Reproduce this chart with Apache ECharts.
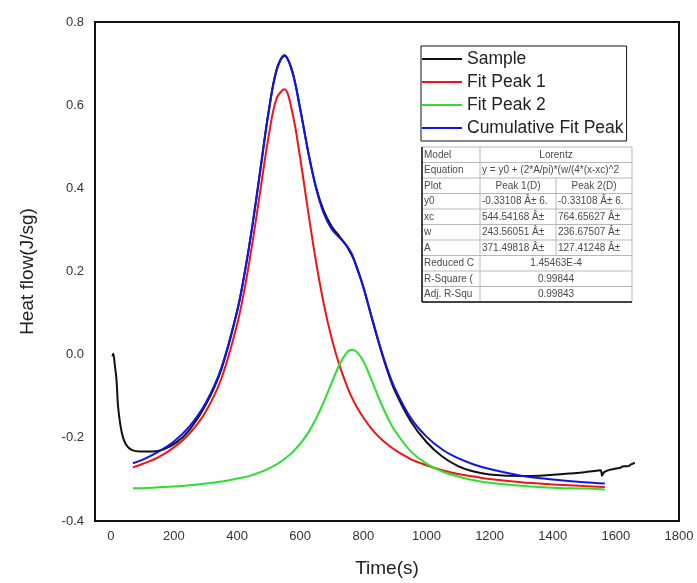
<!DOCTYPE html>
<html>
<head>
<meta charset="utf-8">
<script src="https://cdn.jsdelivr.net/npm/echarts@6/dist/echarts.min.js"></script>
<style>
  html, body { margin: 0; padding: 0; background: #fff; }
  #chart { width: 697px; height: 583px; }
</style>
</head>
<body>
<div id="chart"></div>
<script>
// values
const sampleTime = [5, 8, 12, 18, 23, 31, 39, 50, 66, 92, 134, 166, 208, 250, 300, 350, 400, 425, 450, 475, 500, 525, 550, 575, 600, 625, 650, 675, 700, 725, 750, 775, 800, 825, 850, 875, 900, 950, 1000, 1050, 1100, 1150, 1200, 1300, 1400, 1450, 1500, 1540, 1552, 1556, 1562, 1580, 1600, 1615, 1620, 1640, 1648, 1660]
const sampleFlow = [-0.004, 0.002, -0.02, -0.06, -0.124, -0.172, -0.2, -0.218, -0.229, -0.233, -0.233, -0.228, -0.211, -0.180, -0.122, -0.036, 0.103, 0.200, 0.318, 0.452, 0.585, 0.685, 0.720, 0.682, 0.592, 0.490, 0.403, 0.345, 0.308, 0.284, 0.258, 0.220, 0.162, 0.093, 0.025, -0.036, -0.087, -0.160, -0.210, -0.245, -0.268, -0.281, -0.288, -0.292, -0.289, -0.286, -0.283, -0.279, -0.278, -0.291, -0.283, -0.277, -0.274, -0.272, -0.269, -0.268, -0.264, -0.260]

const fitTime = [70, 100, 150, 200, 250, 300, 350, 400, 425, 450, 475, 500, 525, 550, 575, 600, 625, 650, 675, 700, 725, 750, 765, 780, 800, 825, 850, 875, 900, 950, 1000, 1050, 1100, 1150, 1200, 1300, 1400, 1500, 1565]
const peak1 = [-0.271, -0.263, -0.247, -0.223, -0.189, -0.138, -0.058, 0.072, 0.163, 0.275, 0.401, 0.525, 0.616, 0.638, 0.583, 0.473, 0.345, 0.224, 0.121, 0.038, -0.027, -0.079, -0.105, -0.127, -0.151, -0.177, -0.198, -0.215, -0.229, -0.251, -0.266, -0.278, -0.287, -0.293, -0.299, -0.307, -0.312, -0.316, -0.318]
const peak2 = [-0.321, -0.321, -0.319, -0.317, -0.314, -0.310, -0.305, -0.298, -0.294, -0.289, -0.282, -0.274, -0.264, -0.251, -0.235, -0.214, -0.188, -0.154, -0.113, -0.067, -0.023, 0.007, 0.012, 0.006, -0.016, -0.059, -0.106, -0.148, -0.183, -0.232, -0.262, -0.281, -0.293, -0.302, -0.308, -0.315, -0.320, -0.322, -0.324]
const cumulative = [-0.261, -0.253, -0.234, -0.209, -0.172, -0.117, -0.032, 0.105, 0.201, 0.317, 0.450, 0.583, 0.683, 0.718, 0.679, 0.590, 0.488, 0.401, 0.339, 0.302, 0.281, 0.259, 0.240, 0.207, 0.163, 0.095, 0.028, -0.032, -0.081, -0.152, -0.197, -0.228, -0.249, -0.264, -0.275, -0.291, -0.300, -0.307, -0.310]

const xTicks = [0, 200, 400, 600, 800, 1000, 1200, 1400, 1600, 1800]

// fit report table
const tableLabels = ['Model', 'Equation', 'Plot', 'y0', 'xc', 'w', 'A', 'Reduced C', 'R-Square (', 'Adj. R-Squ']
const tablePeak1 = ['Lorentz', 'y = y0 + (2*A/pi)*(w/(4*(x-xc)^2', 'Peak 1(D)', '-0.33108 Â± 6.', '544.54168 Â±', '243.56051 Â±', '371.49818 Â±', '1.45463E-4', '0.99844', '0.99843']
const tablePeak2 = [null, null, 'Peak 2(D)', '-0.33108 Â± 6.', '764.65627 Â±', '236.67507 Â±', '127.41248 Â±', null, null, null]

const font = 'Liberation Sans, Arial, sans-serif'

const zip = (xs, ys) => xs.map((x, i) => [x, ys[i]])

const buildTable = () => {
	const x0 = 422, x1 = 480, x2 = 556, x3 = 632
	const top = 147, rowH = 15.5
	const bottom = top + rowH * tableLabels.length
	const els = []
	const grey = '#b8b8b8'
	const txt = '#4a4a4a'
	els.push({ type: 'rect', shape: { x: x0, y: top, width: x3 - x0, height: bottom - top }, style: { fill: '#fff', stroke: grey, lineWidth: 1 } })
	tableLabels.forEach((lab, i) => {
		const y = top + rowH * i
		if (i > 0) els.push({ type: 'line', shape: { x1: x0, y1: y, x2: x3, y2: y }, style: { stroke: grey, lineWidth: 1 } })
		els.push({ type: 'text', style: { text: lab, x: x0 + 2, y: y + rowH / 2, verticalAlign: 'middle', fontSize: 10, fontFamily: font, fill: txt } })
		const v1 = tablePeak1[i]
		const v2 = tablePeak2[i]
		if (v2 === null) {
			// spanning cell
			const isEq = i === 1
			els.push({ type: 'text', style: { text: v1, x: isEq ? x1 + 2 : (x1 + x3) / 2, y: y + rowH / 2, align: isEq ? 'left' : 'center', verticalAlign: 'middle', fontSize: 10, fontFamily: font, fill: txt } })
		} else {
			const centered = i === 2
			els.push({ type: 'text', style: { text: v1, x: centered ? (x1 + x2) / 2 : x1 + 2, y: y + rowH / 2, align: centered ? 'center' : 'left', verticalAlign: 'middle', fontSize: 10, fontFamily: font, fill: txt } })
			els.push({ type: 'text', style: { text: v2, x: centered ? (x2 + x3) / 2 : x2 + 2, y: y + rowH / 2, align: centered ? 'center' : 'left', verticalAlign: 'middle', fontSize: 10, fontFamily: font, fill: txt } })
			els.push({ type: 'line', shape: { x1: x2, y1: y, x2: x2, y2: y + rowH }, style: { stroke: grey, lineWidth: 1 } })
		}
	})
	els.push({ type: 'line', shape: { x1: x1, y1: top, x2: x1, y2: bottom }, style: { stroke: grey, lineWidth: 1 } })
	// darker left and bottom edges
	els.push({ type: 'line', shape: { x1: x0, y1: top, x2: x0, y2: bottom }, style: { stroke: '#111', lineWidth: 1.5 } })
	els.push({ type: 'line', shape: { x1: x0, y1: bottom, x2: x3, y2: bottom }, style: { stroke: '#111', lineWidth: 1.5 } })
	return els
}

const myChart = echarts.init(document.getElementById('chart'))

const lineSeries = (name, data, color) => ({
	name: name,
	type: 'line',
	data: data,
	symbol: 'none',
	smooth: 0.35,
	lineStyle: { color: color, width: 2 },
	itemStyle: { color: color },
})

const option = {
	animation: false,
	backgroundColor: '#fff',
	textStyle: { fontFamily: font },
	grid: { left: 95, right: 18, top: 22, bottom: 61, show: true, borderColor: '#111', borderWidth: 2 },
	legend: {
		orient: 'vertical',
		left: 421,
		top: 46,
		icon: 'rect',
		itemWidth: 40,
		itemHeight: 2,
		itemGap: 3,
		padding: [3, 3, 3, 1],
		borderColor: '#111',
		borderWidth: 1,
		textStyle: { fontSize: 17.5, color: '#222', fontFamily: font, lineHeight: 20 },
		data: ['Sample', 'Fit Peak 1', 'Fit Peak 2', 'Cumulative Fit Peak'],
	},
	xAxis: {
		type: 'value',
		min: -50,
		max: 1800,
		name: 'Time(s)',
		nameLocation: 'middle',
		nameGap: 38,
		nameTextStyle: { fontSize: 19, color: '#222' },
		axisLine: { show: false },
		axisTick: { show: false },
		splitLine: { show: false },
		axisLabel: { customValues: xTicks, fontSize: 13, color: '#333', margin: 9, formatter: v => String(v) },
	},
	yAxis: {
		type: 'value',
		min: -0.4,
		max: 0.8,
		interval: 0.2,
		name: 'Heat flow(J/sg)',
		nameLocation: 'middle',
		nameGap: 58,
		nameTextStyle: { fontSize: 19, color: '#222' },
		axisLine: { show: false },
		axisTick: { show: false },
		splitLine: { show: false },
		axisLabel: {
			fontSize: 13,
			color: '#333',
			margin: 11,
			formatter: v => (Math.abs(v) < 1e-9 ? '0.0' : v.toFixed(1)),
		},
	},
	series: [
		lineSeries('Sample', zip(sampleTime, sampleFlow), '#111'),
		lineSeries('Fit Peak 1', zip(fitTime, peak1), '#f01414'),
		lineSeries('Fit Peak 2', zip(fitTime, peak2), '#2ee02e'),
		lineSeries('Cumulative Fit Peak', zip(fitTime, cumulative), '#1414e6'),
	],
	graphic: buildTable(),
}

myChart.setOption(option)
</script>
</body>
</html>
